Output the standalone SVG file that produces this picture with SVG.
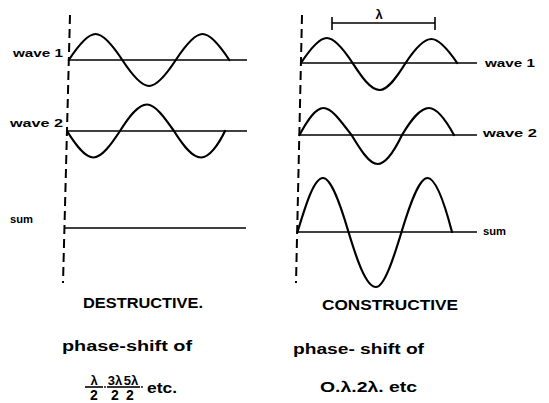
<svg xmlns="http://www.w3.org/2000/svg" width="549" height="403" viewBox="0 0 549 403">
<style>
.bg{fill:#fff}
.wave{fill:none;stroke:#000;stroke-width:2.2;stroke-linecap:round;stroke-linejoin:round}
.base{fill:none;stroke:#000;stroke-width:1.6}
.dash{fill:none;stroke:#000;stroke-width:2;stroke-dasharray:9 5}
.lbl{font-family:"Liberation Sans",Arial,sans-serif;font-weight:bold;font-size:10px;fill:#000}
.title{font-family:"Liberation Sans",Arial,sans-serif;font-weight:bold;font-size:15px;fill:#000}
.txt{font-family:"Liberation Sans",Arial,sans-serif;font-weight:bold;font-size:14px;fill:#000}
.frac{font-family:"Liberation Sans",Arial,sans-serif;font-weight:bold;font-size:13px;fill:#000;text-anchor:middle}
.den{font-size:14px}
.sm{font-size:11.5px}
.bar{stroke:#000;stroke-width:1.6}
</style>
<rect class="bg" x="0" y="0" width="549" height="403"/>

<g id="connectors">
  <line class="dash" x1="70" y1="15" x2="63" y2="283"/>
  <line class="dash" x1="302" y1="15" x2="296" y2="283"/>
</g>

<g id="destructive-wave1">
  <line class="base" x1="68" y1="60" x2="247" y2="60"/>
  <path class="wave" d="M68.8,60 c8.72,-13.31 18.24,-26 26.75,-26 c8.51,0 18.03,12.69 26.75,26 c8.72,13.31 18.24,26 26.75,26 c8.51,0 18.03,-12.69 26.75,-26 c8.72,-13.31 18.24,-26 26.75,-26 c8.51,0 18.03,12.69 26.75,26"/>
  <text class="lbl" x="13" y="57" textLength="50" lengthAdjust="spacingAndGlyphs">wave 1</text>
</g>

<g id="destructive-wave2">
  <line class="base" x1="67" y1="131" x2="247" y2="131"/>
  <path class="wave" d="M67,131 c8.48,13.57 17.72,26.5 26.5,26.5 c8.28,0 17.52,-12.93 26.5,-26.5 c8.48,-13.57 17.72,-26.5 27,-26.5 c8.28,0 17.52,12.93 27,26.5 c8.48,13.57 17.72,26.5 27,26.5 c8.28,0 17.52,-12.93 24,-26.5"/>
  <text class="lbl" x="10" y="127" textLength="53" lengthAdjust="spacingAndGlyphs">wave 2</text>
</g>

<g id="destructive-sum">
  <line class="base" x1="64" y1="228" x2="246" y2="228"/>
  <text class="lbl sm" x="10" y="223" textLength="23" lengthAdjust="spacingAndGlyphs">sum</text>
</g>

<g id="constructive-wave1">
  <line class="base" x1="301" y1="63" x2="477" y2="63"/>
  <path class="wave" d="M301,63 c8.41,-12.8 17.59,-25 25.8,-25 c8.21,0 17.39,12.2 25.8,25 c8.41,12.8 17.59,27 27,27 c8.21,0 17.39,-13.2 26,-27 c8.41,-12.8 17.59,-24 25.8,-24 c8.21,0 17.39,11.7 25.8,24"/>
  <text class="lbl" x="485" y="67" textLength="50" lengthAdjust="spacingAndGlyphs">wave 1</text>
</g>

<g id="constructive-wave2">
  <line class="base" x1="299" y1="135" x2="477" y2="135"/>
  <path class="wave" d="M299.5,135 c7.41,-13.82 15.59,-27 24,-27 c8.21,0 17.39,13.18 28,27 c8.41,13.82 17.59,29 26,29 c8.21,0 17.39,-14.18 24.5,-29 c8.41,-13.82 17.59,-27 27,-27 c8.21,0 17.39,13.18 25,27"/>
  <text class="lbl" x="483" y="137" textLength="54" lengthAdjust="spacingAndGlyphs">wave 2</text>
</g>

<g id="constructive-sum">
  <line class="base" x1="297" y1="232" x2="477" y2="232"/>
  <path class="wave" d="M297.5,232 c8.38,-27.65 16.52,-54 25.5,-54 c8.18,0 17.32,26.35 25.5,54 c8.38,27.65 17.52,55 27.5,55 c8.18,0 17.32,-28 25.5,-55 c8.38,-27.65 17.52,-54 26,-54 c8.18,0 17.32,26.35 24.5,54"/>
  <text class="lbl sm" x="483" y="235" textLength="23" lengthAdjust="spacingAndGlyphs">sum</text>
</g>

<g id="wavelength">
  <line class="bar" x1="332" y1="23" x2="435" y2="23"/>
  <line class="bar" x1="332" y1="17" x2="332" y2="30"/>
  <line class="bar" x1="435" y1="17" x2="435" y2="30"/>
  <text class="frac" x="379" y="19">λ</text>
</g>

<g id="destructive-text">
  <text class="title" x="83" y="308" textLength="120" lengthAdjust="spacingAndGlyphs">DESTRUCTIVE.</text>
  <text class="txt" x="62" y="351" textLength="130" lengthAdjust="spacingAndGlyphs">phase-shift of</text>
  <text class="frac" x="94" y="385">λ</text>
  <line class="bar" x1="85" y1="387" x2="103" y2="387"/>
  <text class="frac den" x="94" y="400">2</text>
  <circle cx="105" cy="387" r="0.9"/>
  <text class="frac" x="115" y="385">3λ</text>
  <line class="bar" x1="107" y1="387" x2="123" y2="387"/>
  <text class="frac den" x="115" y="400">2</text>
  <text class="frac" x="131" y="385">5λ</text>
  <line class="bar" x1="123" y1="387" x2="140" y2="387"/>
  <text class="frac den" x="130" y="400">2</text>
  <circle cx="142" cy="387" r="0.9"/>
  <text class="txt" x="147" y="393" textLength="30" lengthAdjust="spacingAndGlyphs">etc.</text>
</g>

<g id="constructive-text">
  <text class="title" x="322" y="310" textLength="136" lengthAdjust="spacingAndGlyphs">CONSTRUCTIVE</text>
  <text class="txt" x="293" y="354" textLength="131" lengthAdjust="spacingAndGlyphs">phase- shift  of</text>
  <text class="txt" x="320" y="392" textLength="97" lengthAdjust="spacingAndGlyphs">O.λ.2λ. etc</text>
</g>
</svg>
